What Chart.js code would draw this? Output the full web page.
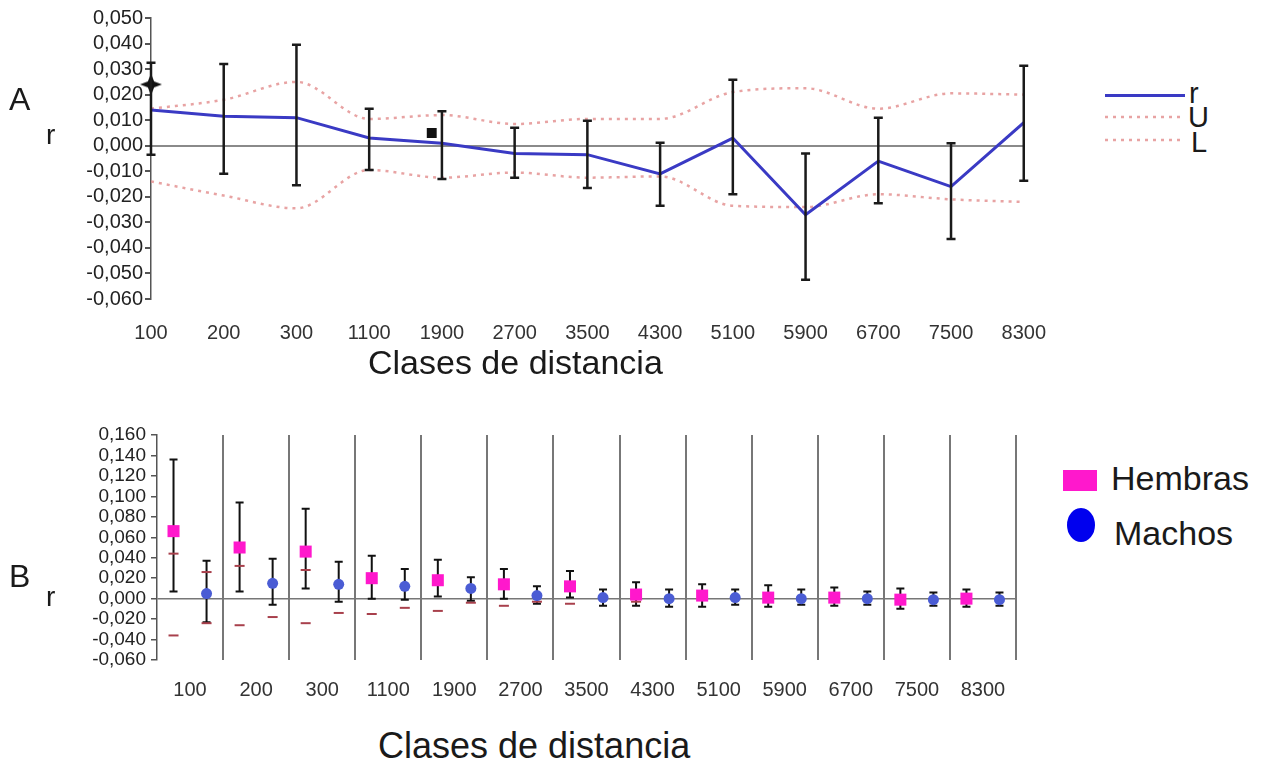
<!DOCTYPE html>
<html>
<head>
<meta charset="utf-8">
<script src="https://cdn.jsdelivr.net/npm/chart.js@4.4.1/dist/chart.umd.min.js"></script>
<style>
  body { margin: 0; background: #fff; }
  #page { position: relative; width: 1272px; height: 765px; overflow: hidden; font-family: "Liberation Sans", Arial, sans-serif; color: #1a1a1a; }
  canvas { position: absolute; left: 0; }
  .t { position: absolute; line-height: 1; white-space: nowrap; }
</style>
</head>
<body>
<div id="page">
  <canvas id="chartA" width="1060" height="345" style="top:0"></canvas>
  <canvas id="chartB" width="1050" height="320" style="top:400px"></canvas>

  <div class="t" style="left:9px;top:83px;font-size:32px">A</div>
  <div class="t" style="left:46px;top:121px;font-size:28px">r</div>
  <div class="t" style="left:368px;top:345px;font-size:34px">Clases de distancia</div>

  <svg style="position:absolute;left:1100px;top:85px" width="90" height="60">
    <line x1="5" y1="10.5" x2="85" y2="10.5" stroke="#3a3ac4" stroke-width="3"/>
    <line x1="5" y1="32" x2="85" y2="32" stroke="rgba(226,140,140,0.8)" stroke-width="2.5" stroke-dasharray="3,5"/>
    <line x1="5" y1="55" x2="85" y2="55" stroke="rgba(226,140,140,0.8)" stroke-width="2.5" stroke-dasharray="3,5"/>
  </svg>
  <div class="t" style="left:1189px;top:79px;font-size:29px">r</div>
  <div class="t" style="left:1188px;top:103px;font-size:29px">U</div>
  <div class="t" style="left:1191px;top:128px;font-size:29px">L</div>

  <div class="t" style="left:9px;top:560px;font-size:32px">B</div>
  <div class="t" style="left:46px;top:583px;font-size:28px">r</div>
  <div class="t" style="left:378px;top:728px;font-size:36px">Clases de distancia</div>

  <svg style="position:absolute;left:1060px;top:465px" width="40" height="82">
    <rect x="3" y="5" width="34" height="21" fill="#ff18cc"/>
    <ellipse cx="21" cy="60" rx="14" ry="17" fill="#0000ee"/>
  </svg>
  <div class="t" style="left:1111px;top:461px;font-size:34px">Hembras</div>
  <div class="t" style="left:1114px;top:516px;font-size:34px">Machos</div>
</div>

<script>
// clases de distancia
const classes = ['100', '200', '300', '1100', '1900', '2700', '3500', '4300', '5100', '5900', '6700', '7500', '8300'];

// Panel A
const rA  = [0.014, 0.0115, 0.011, 0.003, 0.001, -0.003, -0.0035, -0.011, 0.003, -0.027, -0.006, -0.016, 0.009];
const uA  = [0.0145, 0.018, 0.025, 0.0105, 0.012, 0.0085, 0.0105, 0.0105, 0.021, 0.0225, 0.0145, 0.0205, 0.020];
const lA  = [-0.014, -0.0195, -0.0245, -0.0095, -0.0125, -0.0105, -0.0125, -0.012, -0.0235, -0.024, -0.019, -0.021, -0.022];
const hiA = [0.0325, 0.032, 0.0395, 0.0145, 0.0135, 0.007, 0.0098, 0.0012, 0.0258, -0.003, 0.011, 0.001, 0.0313];
const loA = [-0.0035, -0.011, -0.0155, -0.0095, -0.013, -0.0125, -0.0165, -0.0235, -0.019, -0.0525, -0.0225, -0.0365, -0.0137];
const starMark = { x: 0, y: 0.024 };
const squareMark = { x: 3.86, y: 0.005 };

// Panel B
const hembras   = [0.066, 0.050, 0.046, 0.020, 0.018, 0.014, 0.012, 0.004, 0.003, 0.001, 0.001, -0.001, 0.000];
const hembrasHi = [0.136, 0.094, 0.088, 0.042, 0.038, 0.029, 0.027, 0.016, 0.014, 0.013, 0.011, 0.010, 0.009];
const hembrasLo = [0.007, 0.007, 0.010, 0.000, 0.002, 0.000, 0.001, -0.007, -0.008, -0.008, -0.007, -0.010, -0.008];
const hembrasU  = [0.044, 0.032, 0.028, null, null, null, null, null, null, null, null, null, null];
const hembrasL  = [-0.036, -0.026, -0.024, -0.015, -0.012, -0.007, -0.005, -0.003, null, null, null, null, null];
const machos    = [0.005, 0.015, 0.014, 0.012, 0.010, 0.003, 0.001, 0.000, 0.001, 0.000, 0.000, -0.001, -0.001];
const machosHi  = [0.037, 0.039, 0.036, 0.029, 0.021, 0.012, 0.009, 0.009, 0.009, 0.009, 0.007, 0.006, 0.006];
const machosLo  = [-0.023, -0.006, -0.003, -0.001, -0.002, -0.005, -0.007, -0.008, -0.006, -0.006, -0.006, -0.007, -0.007];
const machosU   = [0.026, null, null, null, null, null, null, null, null, null, null, null, null];
const machosL   = [-0.024, -0.018, -0.014, -0.009, -0.004, -0.003, null, null, null, null, null, null, null];

const FONT = '"Liberation Sans", Arial, sans-serif';
const fmt = v => (Math.abs(v) < 1e-9 ? 0 : v).toFixed(3).replace('.', ',');
const pts = (arr, xf) => arr.map((v, i) => ({ x: xf(i), y: v })).filter(p => p.y !== null);

// error bars drawn with the chart's own scales
function makeErrorBars(sets, style) {
  function drawBars(chart) {
    const { ctx, scales: { x, y } } = chart;
    ctx.save();
    ctx.strokeStyle = style.color;
    ctx.lineWidth = style.width;
    sets.forEach(s => {
      s.lo.forEach((lo, i) => {
        const px = x.getPixelForValue(s.x(i));
        const top = y.getPixelForValue(s.hi[i]);
        const bot = y.getPixelForValue(lo);
        ctx.beginPath();
        ctx.moveTo(px, top); ctx.lineTo(px, bot);
        ctx.moveTo(px - style.cap, top); ctx.lineTo(px + style.cap, top);
        ctx.moveTo(px - style.cap, bot); ctx.lineTo(px + style.cap, bot);
        ctx.stroke();
      });
    });
    ctx.restore();
  }
  return {
    id: 'errorBars',
    beforeDatasetsDraw(chart) { if (style.under) drawBars(chart); },
    afterDatasetsDraw(chart) { if (!style.under) drawBars(chart); }
  };
}

function starIcon(size) {
  const c = document.createElement('canvas');
  c.width = c.height = size;
  const g = c.getContext('2d');
  const m = size / 2;
  g.beginPath();
  for (let k = 0; k < 8; k++) {
    const ang = k * Math.PI / 4 - Math.PI / 2;
    const rr = k % 2 === 0 ? m : size * 0.2;
    g.lineTo(m + rr * Math.cos(ang), m + rr * Math.sin(ang));
  }
  g.closePath();
  g.fillStyle = '#111';
  g.fill();
  return c;
}

const dotted = 'rgba(226,140,140,0.8)';

new Chart(document.getElementById('chartA'), {
  type: 'line',
  data: {
    datasets: [
      { label: 'r', data: pts(rA, i => i), borderColor: '#3a3ac4', borderWidth: 3, pointRadius: 0, tension: 0 },
      { label: 'U', data: pts(uA, i => i), borderColor: dotted, borderWidth: 2.5, borderDash: [3, 5], pointRadius: 0, cubicInterpolationMode: 'monotone' },
      { label: 'L', data: pts(lA, i => i), borderColor: dotted, borderWidth: 2.5, borderDash: [3, 5], pointRadius: 0, cubicInterpolationMode: 'monotone' },
      { type: 'scatter', data: [starMark], pointStyle: starIcon(22), pointRadius: 11, clip: false },
      { type: 'scatter', data: [squareMark], pointStyle: 'rect', pointRadius: 7, backgroundColor: '#111', borderWidth: 0 }
    ]
  },
  options: {
    responsive: false,
    animation: false,
    layout: { padding: { top: 18, right: 33, left: 0, bottom: 0 } },
    plugins: { legend: { display: false }, tooltip: { enabled: false } },
    scales: {
      x: {
        type: 'linear', min: 0, max: 12,
        afterFit(s) { s.height = 46; },
        grid: { display: false },
        border: { display: false },
        ticks: { stepSize: 1, autoSkip: false, maxRotation: 0, padding: 14, color: '#333',
                 font: { family: FONT, size: 20 }, callback: v => classes[v] ?? '' }
      },
      y: {
        min: -0.06, max: 0.05,
        afterFit(s) { s.width = 151; },
        ticks: { stepSize: 0.01, autoSkip: false, padding: 2, color: '#222', font: { family: FONT, size: 20 }, callback: fmt },
        grid: { drawTicks: true, tickLength: 6, tickColor: '#555', lineWidth: 2,
                color: c => Math.abs(c.tick.value) < 1e-9 ? '#8a8a8a' : 'transparent' },
        border: { display: true, color: '#555', width: 1.5 }
      }
    }
  },
  plugins: [makeErrorBars([{ x: i => i, lo: loA, hi: hiA }], { color: '#1a1a1a', width: 2.5, cap: 4.5, under: false })]
});

const hx = i => 2 * i + 0.5;
const mx = i => 2 * i + 1.5;
const dash = { type: 'scatter', pointStyle: 'line', pointRadius: 5, borderColor: '#a8404c', borderWidth: 2 };

new Chart(document.getElementById('chartB'), {
  type: 'scatter',
  data: {
    datasets: [
      { label: 'Hembras', data: pts(hembras, hx), pointStyle: 'rect', pointRadius: 8.5, backgroundColor: '#ff18cc', borderWidth: 0 },
      { label: 'Machos', data: pts(machos, mx), pointStyle: 'circle', pointRadius: 5.5, backgroundColor: '#4a5cd4', borderWidth: 0 },
      Object.assign({ data: pts(hembrasU, hx) }, dash),
      Object.assign({ data: pts(hembrasL, hx) }, dash),
      Object.assign({ data: pts(machosU, mx) }, dash),
      Object.assign({ data: pts(machosL, mx) }, dash)
    ]
  },
  options: {
    responsive: false,
    animation: false,
    layout: { padding: { top: 35, right: 34, left: 0, bottom: 0 } },
    plugins: { legend: { display: false }, tooltip: { enabled: false } },
    scales: {
      x: {
        type: 'linear', min: 0, max: 26,
        afterFit(s) { s.height = 60; },
        border: { display: false },
        grid: { drawTicks: false, lineWidth: 2,
                color: c => (c.tick.value > 0 && c.tick.value % 2 === 0) ? '#777' : 'transparent' },
        ticks: { stepSize: 1, autoSkip: false, maxRotation: 0, padding: 18, color: '#333',
                 font: { family: '"Liberation Sans Narrow", "Liberation Sans", Arial, sans-serif', size: 20 },
                 callback: v => v % 2 === 1 ? classes[(v - 1) / 2] : '' }
      },
      y: {
        min: -0.06, max: 0.16,
        afterFit(s) { s.width = 157; },
        ticks: { stepSize: 0.02, autoSkip: false, padding: 5, color: '#222', font: { family: FONT, size: 19 }, callback: fmt },
        grid: { drawTicks: true, tickLength: 6, tickColor: '#555', lineWidth: 1.5,
                color: c => Math.abs(c.tick.value) < 1e-9 ? '#777' : 'transparent' },
        border: { display: true, color: '#555', width: 1.5 }
      }
    }
  },
  plugins: [makeErrorBars([
    { x: hx, lo: hembrasLo, hi: hembrasHi },
    { x: mx, lo: machosLo, hi: machosHi }
  ], { color: '#111', width: 2, cap: 4, under: true })]
});
</script>
</body>
</html>
